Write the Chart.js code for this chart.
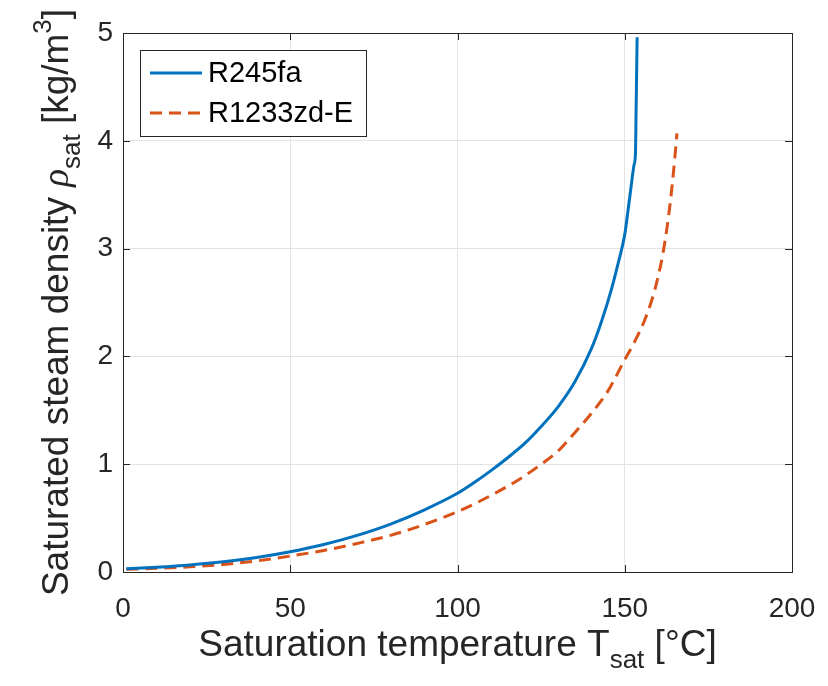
<!DOCTYPE html>
<html><head><meta charset="utf-8">
<script src="https://cdn.jsdelivr.net/npm/chart.js@4"></script>
<style>html,body{margin:0;padding:0;background:#fff;}#wrap{width:828px;height:686px;position:relative;}</style>
</head><body><div id="wrap"><canvas id="c" width="828" height="686"></canvas></div>
<script>
const seriesNames = ['R245fa', 'R1233zd-E'];
const tempR245fa = [1, 10, 20, 30, 40, 50, 60, 70, 80, 90, 100, 105, 110, 115, 120, 125, 130, 135, 140, 143, 146, 148, 150, 151, 152, 152.8, 153.2, 153.4, 153.7];
const rhoR245fa  = [0.03, 0.045, 0.066, 0.095, 0.135, 0.188, 0.255, 0.34, 0.445, 0.575, 0.73, 0.83, 0.94, 1.06, 1.19, 1.35, 1.53, 1.76, 2.07, 2.32, 2.62, 2.86, 3.13, 3.36, 3.6, 3.78, 3.88, 4.3, 4.96];
const tempR1233zd = [1, 10, 20, 30, 40, 50, 60, 70, 80, 90, 100, 110, 120, 125, 130, 135, 140, 145, 150, 153, 156, 159, 161.5, 163.5, 165, 165.6];
const rhoR1233zd  = [0.025, 0.035, 0.048, 0.07, 0.103, 0.148, 0.2, 0.265, 0.34, 0.44, 0.56, 0.71, 0.89, 1.0, 1.12, 1.29, 1.47, 1.68, 1.97, 2.14, 2.34, 2.62, 2.97, 3.4, 3.85, 4.07];
const xTicks = [0, 50, 100, 150, 200];
const yTicks = [0, 1, 2, 3, 4, 5];
const xTitleParts = [['Saturation temperature T', 'main', 0], ['sat', 'sub', 12], [' [°C]', 'main', 0]];
const yTitleParts = [['Saturated steam density ', 'main', 0], ['ρ', 'greek', 0], ['sat', 'sub', 12], [' [kg/m', 'main', 0], ['3', 'sub', -17], [']', 'main', 0]];

const FONT = 'Liberation Sans, Arial, sans-serif';
const fonts = { main: '37px ' + FONT, sub: '26px ' + FONT, greek: 'italic 37px Liberation Serif, serif' };
const BLUE = '#0072BD', ORANGE = '#D95319', AXIS = '#262626';

function toPts(xs, ys) { return xs.map((x, i) => ({ x: x, y: ys[i] })); }

function drawRich(ctx, parts, cx, by) {
  let total = 0;
  const m = parts.map(p => { ctx.font = fonts[p[1]]; const w = ctx.measureText(p[0]).width; total += w; return w; });
  let x = cx - total / 2;
  ctx.textAlign = 'left'; ctx.textBaseline = 'alphabetic';
  parts.forEach((p, i) => { ctx.font = fonts[p[1]]; ctx.fillText(p[0], x, by + p[2]); x += m[i]; });
}

const decor = {
  id: 'decor',
  afterDatasetsDraw(chart) {
    const ctx = chart.ctx, a = chart.chartArea, sx = chart.scales.x, sy = chart.scales.y;
    ctx.save();
    ctx.strokeStyle = AXIS; ctx.lineWidth = 1;
    ctx.strokeRect(Math.round(a.left) + 0.5, Math.round(a.top) + 0.5, Math.round(a.right - a.left), Math.round(a.bottom - a.top));
    const tl = 7;
    ctx.beginPath();
    xTicks.forEach(v => {
      const px = Math.round(sx.getPixelForValue(v)) + 0.5;
      ctx.moveTo(px, a.bottom); ctx.lineTo(px, a.bottom - tl);
      ctx.moveTo(px, a.top); ctx.lineTo(px, a.top + tl);
    });
    yTicks.forEach(v => {
      const py = Math.round(sy.getPixelForValue(v)) + 0.5;
      ctx.moveTo(a.left, py); ctx.lineTo(a.left + tl, py);
      ctx.moveTo(a.right, py); ctx.lineTo(a.right - tl, py);
    });
    ctx.stroke();
    ctx.fillStyle = AXIS;
    drawRich(ctx, xTitleParts, (a.left + a.right) / 2, 656);
    ctx.save();
    ctx.translate(68, (a.top + a.bottom) / 2);
    ctx.rotate(-Math.PI / 2);
    drawRich(ctx, yTitleParts, 0, 0);
    ctx.restore();
    const lx = a.left + 17, ly = a.top + 17, lw = 226, lh = 86;
    ctx.fillStyle = '#fff';
    ctx.fillRect(lx, ly, lw, lh);
    ctx.strokeStyle = AXIS; ctx.lineWidth = 1;
    ctx.strokeRect(lx + 0.5, ly + 0.5, lw, lh);
    chart.data.datasets.forEach((d, i) => {
      const yy = ly + 23 + i * 40;
      ctx.strokeStyle = d.borderColor; ctx.lineWidth = 3;
      ctx.setLineDash(d.borderDash || []);
      ctx.beginPath(); ctx.moveTo(lx + 10, yy); ctx.lineTo(lx + 62, yy); ctx.stroke();
      ctx.setLineDash([]);
      ctx.fillStyle = '#000';
      ctx.font = '29px ' + FONT; ctx.textAlign = 'left'; ctx.textBaseline = 'middle';
      ctx.fillText(d.label, lx + 68, yy + 1);
    });
    ctx.restore();
  }
};

function noPad(s) { s.paddingLeft = 0; s.paddingRight = 0; s.paddingTop = 0; s.paddingBottom = 0; }

new Chart(document.getElementById('c'), {
  type: 'scatter',
  data: {
    datasets: [
      { label: seriesNames[0], data: toPts(tempR245fa, rhoR245fa), showLine: true, borderColor: BLUE, backgroundColor: BLUE, borderWidth: 3, pointRadius: 0, cubicInterpolationMode: 'monotone' },
      { label: seriesNames[1], data: toPts(tempR1233zd, rhoR1233zd), showLine: true, borderColor: ORANGE, backgroundColor: ORANGE, borderWidth: 3, borderDash: [12, 7], pointRadius: 0, cubicInterpolationMode: 'monotone' }
    ]
  },
  options: {
    responsive: false, animation: false, devicePixelRatio: 1,
    layout: { padding: { top: 33, right: 36, left: 0, bottom: 0 } },
    plugins: { legend: { display: false }, tooltip: { enabled: false } },
    scales: {
      x: {
        type: 'linear', min: 0, max: 200,
        afterBuildTicks: s => { s.ticks = xTicks.map(v => ({ value: v })); },
        afterFit: s => { s.height = 114; noPad(s); },
        grid: { color: '#e3e3e3', drawTicks: false, lineWidth: 1 },
        border: { display: false },
        ticks: { font: { family: FONT, size: 28 }, color: AXIS, padding: 20, maxRotation: 0 }
      },
      y: {
        type: 'linear', min: 0, max: 5,
        afterBuildTicks: s => { s.ticks = yTicks.map(v => ({ value: v })); },
        afterFit: s => { s.width = 123; noPad(s); },
        grid: { color: '#e3e3e3', drawTicks: false, lineWidth: 1 },
        border: { display: false },
        ticks: { font: { family: FONT, size: 28 }, color: AXIS, padding: 10 }
      }
    }
  },
  plugins: [decor]
});
</script></body></html>
